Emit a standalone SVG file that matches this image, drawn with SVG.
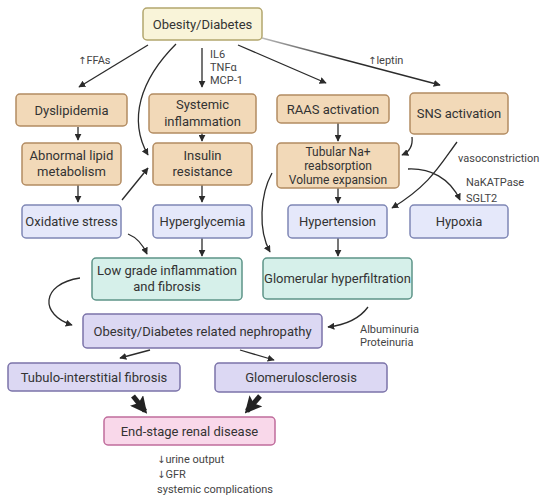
<svg xmlns="http://www.w3.org/2000/svg" width="550" height="501" viewBox="0 0 550 501">
<defs>
<style>
.t{font-family:Roboto,"Liberation Sans",sans-serif;font-size:13px;fill:#333;text-anchor:middle}
.ts{font-family:Roboto,"Liberation Sans",sans-serif;font-size:12px;fill:#333;text-anchor:middle}
.lb{font-family:Roboto,"Liberation Sans",sans-serif;font-size:11px;fill:#444}
.ar{font-family:"DejaVu Sans",sans-serif;font-size:10px;fill:#444}
.y{fill:#f9f4d9;stroke:#b3a66e;stroke-width:1.5}
.o{fill:#f2d9b8;stroke:#b38c62;stroke-width:1.5}
.b{fill:#e5e8fa;stroke:#7f87b5;stroke-width:1.5}
.g{fill:#d6f0ea;stroke:#5d9488;stroke-width:1.5}
.p{fill:#dcd8f3;stroke:#7b73a9;stroke-width:1.5}
.k{fill:#f9d8ea;stroke:#c06c9c;stroke-width:1.5}
.c{fill:none;stroke:#2b2b2b;stroke-width:1.3;marker-end:url(#ah)}
.f{fill:none;stroke:#222;stroke-width:5;marker-end:url(#big)}
</style>
<linearGradient id="fade" gradientUnits="userSpaceOnUse" x1="262" y1="38" x2="440" y2="85">
<stop offset="0" stop-color="#bbb"/><stop offset="0.45" stop-color="#2b2b2b"/>
</linearGradient>
<marker id="ah" viewBox="0 0 10 10" refX="9" refY="5" markerWidth="7" markerHeight="7" markerUnits="userSpaceOnUse" orient="auto">
<path d="M0,0 L10,5 L0,10 z" fill="#2b2b2b"/>
</marker>
<marker id="big" viewBox="0 0 10 10" refX="8" refY="5" markerWidth="3.4" markerHeight="3.4" orient="auto">
<path d="M0,0 L10,5 L0,10 L2,5 z" fill="#222"/>
</marker>
</defs>

<g id="connectors">
<path class="c" d="M148,45 L79,87"/>
<path class="c" d="M176,44 C140,80 128,120 148,155"/>
<path class="c" d="M202,48 L202,87"/>
<path class="c" d="M238,45 L326,83"/>
<path class="c" d="M262,38 L440,85" stroke="url(#fade)" style="stroke:url(#fade)"/>
<path class="c" d="M78,127 L78,140"/>
<path class="c" d="M202,133 L202,141"/>
<path class="c" d="M338,123 L338,141"/>
<path class="c" d="M412,137 C413,146 409,152 402,155"/>
<path class="c" d="M457,142 C440,165 430,185 392,208"/>
<path class="c" d="M408,169 C430,168 450,178 460,200"/>
<path class="c" d="M78,185 L78,202"/>
<path class="c" d="M122,200 L148,168"/>
<path class="c" d="M202,185 L202,202"/>
<path class="c" d="M338,188 L338,203"/>
<path class="c" d="M128,234 C138,238 143,245 147,254"/>
<path class="c" d="M202,238 L202,256"/>
<path class="c" d="M338,238 L338,256"/>
<path class="c" d="M272,173 C260,195 258,230 270,252"/>
<path class="c" d="M80,278 C40,284 40,315 72,325"/>
<path class="c" d="M368,307 C360,318 345,325 328,327"/>
<path class="c" d="M150,350 L120,358"/>
<path class="c" d="M240,350 L274,360"/>
<path class="f" d="M133,396 L145,411"/>
<path class="f" d="M260,396 L247,411"/>
</g>

<g id="labels">
<text class="lb" x="78" y="64"><tspan class="ar">↑</tspan>FFAs</text>
<text class="lb" x="210" y="58">IL6</text>
<text class="lb" x="210" y="71">TNFα</text>
<text class="lb" x="210" y="84">MCP-1</text>
<text class="lb" x="368" y="64"><tspan class="ar">↑</tspan>leptin</text>
<text class="lb" x="458" y="162">vasoconstriction</text>
<text class="lb" x="466" y="186">NaKATPase</text>
<text class="lb" x="466" y="202">SGLT2</text>
<text class="lb" x="360" y="333">Albuminuria</text>
<text class="lb" x="360" y="346">Proteinuria</text>
<text class="lb" x="157" y="463"><tspan class="ar">↓</tspan>urine output</text>
<text class="lb" x="157" y="478"><tspan class="ar">↓</tspan>GFR</text>
<text class="lb" x="157" y="493">systemic complications</text>
</g>

<g id="obesity"><rect class="y" x="143" y="8" width="119" height="32" rx="4"/><text class="t" x="202.5" y="28.5">Obesity/Diabetes</text></g>
<g id="dyslipidemia"><rect class="o" x="16" y="94" width="111" height="32" rx="4"/><text class="t" x="71.5" y="114.5">Dyslipidemia</text></g>
<g id="systemic"><rect class="o" x="149" y="94" width="107" height="39" rx="4"/><text class="t" x="202.5" y="109">Systemic</text><text class="t" x="202.5" y="126">inflammation</text></g>
<g id="raas"><rect class="o" x="277" y="95" width="112" height="28" rx="4"/><text class="t" x="333" y="113.5">RAAS activation</text></g>
<g id="sns"><rect class="o" x="410" y="93" width="98" height="41" rx="4"/><text class="t" x="459" y="118">SNS activation</text></g>
<g id="lipid"><rect class="o" x="22" y="143" width="99" height="42" rx="4"/><text class="t" x="71.5" y="160">Abnormal lipid</text><text class="t" x="71.5" y="176">metabolism</text></g>
<g id="insulin"><rect class="o" x="153" y="143" width="99" height="42" rx="4"/><text class="t" x="202.5" y="160">Insulin</text><text class="t" x="202.5" y="176">resistance</text></g>
<g id="tubular"><rect class="o" x="277" y="143" width="122" height="45" rx="4"/><text class="ts" x="338" y="156">Tubular Na+</text><text class="ts" x="338" y="170">reabsorption</text><text class="ts" x="338" y="184">Volume expansion</text></g>
<g id="oxidative"><rect class="b" x="22" y="205" width="99" height="33" rx="4"/><text class="t" x="71.5" y="226">Oxidative stress</text></g>
<g id="hyperglycemia"><rect class="b" x="153" y="205" width="99" height="33" rx="4"/><text class="t" x="202.5" y="226">Hyperglycemia</text></g>
<g id="hypertension"><rect class="b" x="288" y="205" width="99" height="33" rx="4"/><text class="t" x="337.5" y="226">Hypertension</text></g>
<g id="hypoxia"><rect class="b" x="410" y="205" width="98" height="33" rx="4"/><text class="t" x="459" y="226">Hypoxia</text></g>
<g id="lowgrade"><rect class="g" x="92" y="258" width="150" height="42" rx="4"/><text class="t" x="167" y="275">Low grade inflammation</text><text class="t" x="167" y="291">and fibrosis</text></g>
<g id="hyperfiltration"><rect class="g" x="263" y="258" width="149" height="41" rx="4"/><text class="t" x="337.5" y="283">Glomerular hyperfiltration</text></g>
<g id="nephropathy"><rect class="p" x="83" y="314" width="239" height="34" rx="4"/><text class="t" x="202.5" y="335.5">Obesity/Diabetes related nephropathy</text></g>
<g id="tubulo"><rect class="p" x="8" y="363" width="172" height="28" rx="4"/><text class="t" x="94" y="381.5">Tubulo-interstitial fibrosis</text></g>
<g id="glomerulosclerosis"><rect class="p" x="215" y="363" width="172" height="29" rx="4"/><text class="t" x="301" y="382">Glomerulosclerosis</text></g>
<g id="esrd"><rect class="k" x="104" y="417" width="171" height="28" rx="4"/><text class="t" x="189.5" y="435.5">End-stage renal disease</text></g>
</svg>
